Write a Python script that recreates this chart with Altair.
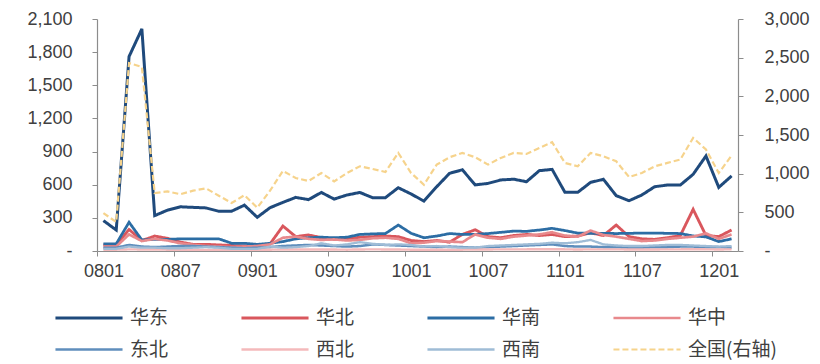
import json
import altair as alt
import pandas as pd

# Monthly series, Jan 2008 – Feb 2012
months = [f"{y:02d}{m:02d}" for y in range(8, 13) for m in range(1, 13)][:50]

east = [275, 190, 1760, 2010, 320, 370, 400, 395, 390, 360, 360, 415, 305, 392, 440, 485,
        465, 530, 470, 507, 530, 483, 483, 573, 516, 452, 582, 703, 735, 598, 612, 643,
        650, 627, 727, 739, 531, 531, 621, 649, 501, 455, 507, 582, 597, 597, 694, 860,
        576, 679]
north = [55, 55, 195, 95, 135, 115, 80, 60, 60, 55, 50, 45, 50, 65, 226, 130,
         145, 121, 106, 110, 125, 130, 135, 130, 95, 85, 95, 80, 150, 192, 130, 120,
         140, 150, 140, 150, 130, 135, 165, 140, 235, 130, 110, 105, 120, 140, 377, 140,
         130, 190]
south = [65, 65, 260, 100, 105, 105, 110, 110, 110, 110, 70, 70, 60, 70, 85, 110,
         120, 125, 120, 125, 150, 155, 158, 235, 160, 120, 135, 158, 150, 150, 158, 169,
         180, 178, 190, 205, 185, 162, 160, 160, 158, 160, 162, 162, 160, 158, 136, 128,
         85, 110]
central = [40, 40, 150, 90, 110, 95, 70, 55, 45, 40, 35, 40, 45, 60, 120, 130,
           110, 100, 105, 95, 100, 115, 120, 110, 70, 75, 90, 85, 80, 150, 120, 110,
           130, 140, 150, 170, 140, 130, 185, 145, 130, 110, 90, 95, 110, 120, 130, 160,
           110, 150]
northeast = [30, 30, 55, 40, 35, 40, 45, 45, 40, 35, 30, 25, 30, 35, 45, 50,
             55, 50, 45, 40, 45, 60, 55, 50, 45, 40, 35, 40, 35, 30, 35, 40,
             45, 50, 55, 60, 45, 40, 40, 35, 35, 30, 30, 35, 35, 40, 40, 35,
             35, 30]
northwest = [12, 12, 15, 14, 13, 12, 12, 11, 10, 10, 10, 10, 10, 12, 13, 14,
             14, 13, 13, 12, 14, 15, 14, 13, 12, 12, 12, 12, 12, 14, 14, 15,
             15, 15, 16, 16, 15, 14, 15, 15, 15, 14, 14, 14, 15, 15, 16, 15,
             14, 15]
southwest = [20, 20, 40, 30, 30, 25, 25, 30, 35, 30, 20, 20, 20, 40, 30, 35,
             45, 70, 50, 60, 80, 65, 55, 60, 55, 40, 45, 35, 30, 30, 45, 50,
             55, 60, 65, 75, 70, 80, 100, 60, 50, 45, 45, 50, 55, 55, 50, 45,
             40, 45]
national = [490, 375, 2430, 2380, 750, 770, 735, 780, 810, 715, 620, 722, 560, 780, 1035, 944,
            905, 1009, 900, 1009, 1095, 1061, 1022, 1268, 1009, 857, 1117, 1212, 1268, 1212, 1117, 1204,
            1268, 1255, 1333, 1407, 1139, 1095, 1268, 1225, 1160, 957, 1009, 1095, 1139, 1182, 1463, 1312,
            1009, 1234]

left_series = {"华东": east, "华北": north, "华南": south, "华中": central,
               "东北": northeast, "西北": northwest, "西南": southwest}
right_name = "全国(右轴)"

series_names = list(left_series) + [right_name]
colors = ["#1F4A7C", "#D9575D", "#2C6DA4", "#E8898C", "#5F8EBC", "#F4B9BB", "#9FBCD6", "#F6D38C"]
dashes = [[1, 0]] * 7 + [[6, 3]]
widths = [3, 2.2, 2.6, 2.2, 2.2, 2.2, 2.2, 2.2]

left_df = pd.DataFrame([
    {"idx": i, "month": months[i], "series": name, "value": v}
    for name, vals in left_series.items() for i, v in enumerate(vals)
])
right_df = pd.DataFrame([
    {"idx": i, "month": months[i], "series": right_name, "value": v}
    for i, v in enumerate(national)
])

n = len(months)
months_js = json.dumps(months)
label_font = "Liberation Sans"
grey = "#8C8C8C"

x_enc = alt.X(
    "idx:Q",
    scale=alt.Scale(domain=[-0.5, n - 0.5], nice=False, zero=False),
    axis=alt.Axis(
        values=[-0.5 + 6 * k for k in range(9)],
        labelExpr=f"{months_js}[round(datum.value + 0.5)]",
        labelOffset=641 / n / 2,
        labelFlush=False,
        labelOverlap=False,
        labelPadding=6,
        title=None,
        grid=False,
    ),
)

# Wide stroke swatch drawn from a path three times the unit box width
legend = alt.Legend(
    title=None, orient="none", legendX=-21, legendY=286,
    direction="horizontal", columns=4, symbolType="M-3,0H3", symbolSize=500,
    symbolStrokeWidth=2.5, labelFont="Noto Sans CJK SC", labelFontSize=19,
    labelColor="#404040", columnPadding=16, rowPadding=9, gridAlign="all",
    labelOffset=28, padding=0,
)

color_enc = alt.Color("series:N", scale=alt.Scale(domain=series_names, range=colors), legend=legend)
dash_enc = alt.StrokeDash("series:N", scale=alt.Scale(domain=series_names, range=dashes), legend=legend)
width_enc = alt.StrokeWidth("series:O", scale=alt.Scale(domain=series_names, range=widths), legend=None)

left = alt.Chart(left_df).mark_line().encode(
    x=x_enc,
    y=alt.Y("value:Q",
            scale=alt.Scale(domain=[0, 2100], nice=False),
            axis=alt.Axis(values=list(range(0, 2101, 300)), orient="left", title=None, grid=False,
                          labelExpr="datum.value == 0 ? '-' : format(datum.value, ',')",
                          labelPadding=20)),
    color=color_enc, strokeDash=dash_enc, strokeWidth=width_enc,
)

right = alt.Chart(right_df).mark_line().encode(
    x=x_enc,
    y=alt.Y("value:Q",
            scale=alt.Scale(domain=[0, 3000], nice=False),
            axis=alt.Axis(values=list(range(0, 3001, 500)), orient="right", title=None, grid=False,
                          labelExpr="datum.value == 0 ? '-' : format(datum.value, ',')",
                          labelPadding=21)),
    color=color_enc, strokeDash=dash_enc, strokeWidth=width_enc,
)

chart = alt.layer(left, right).resolve_scale(y="independent").properties(
    width=641, height=232,
    autosize=alt.AutoSizeParams(type="none"),
    padding={"left": 97, "top": 19, "right": 82, "bottom": 113},
).configure_view(stroke=None).configure_axis(
    labelFont=label_font, labelFontSize=18, labelColor="#404040",
    domainColor=grey, tickColor=grey, tickSize=5, domainWidth=1.2,
)

chart.save("out.html", embed_options={"renderer": "svg", "actions": False})
